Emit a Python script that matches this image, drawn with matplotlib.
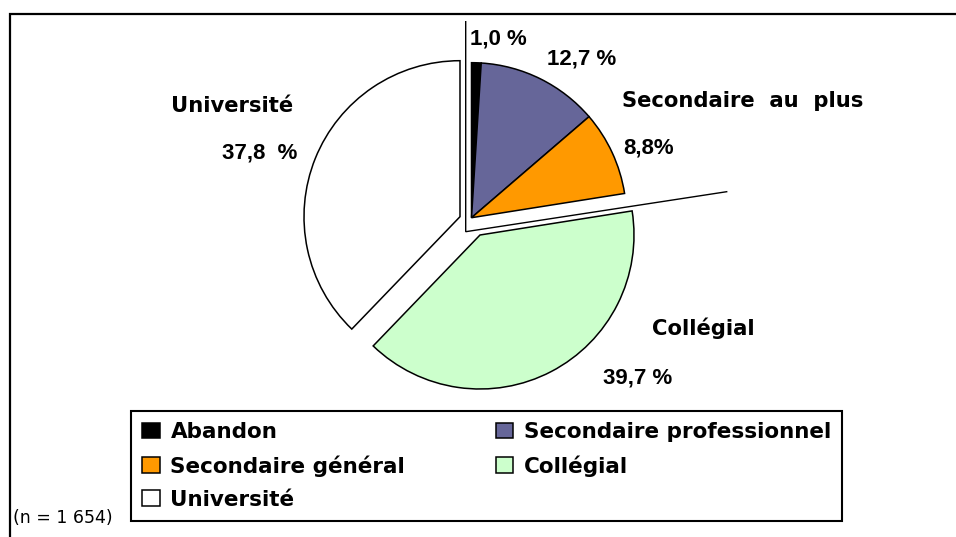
import matplotlib
matplotlib.use('Agg')
import matplotlib.pyplot as plt
from matplotlib.patches import Rectangle

# scolarité (n = 1 654)
categories = ['Abandon', 'Secondaire professionnel', 'Secondaire général',
              'Collégial', 'Université']
pcts = [1.0, 12.7, 8.8, 39.7, 37.8]
pct_labels = ['1,0 %', '12,7 %', '8,8%', '39,7 %', '37,8  %']
colors = ['#000000', '#666699', '#FF9900', '#CCFFCC', '#FFFFFF']

W, H = 956, 537
fig = plt.figure(figsize=(W / 100, H / 100), dpi=100)
ax = fig.add_axes([0, 0, 1, 1])

def py(y):
    # pixel row -> data y
    return H - y

wprops = dict(edgecolor='black', linewidth=1.1)
frac = [p / 100 for p in pcts]

# groupe "Secondaire au plus" (3 premières tranches, détachées ensemble)
w_sec, _ = ax.pie(frac[:3], colors=colors[:3], startangle=90, counterclock=False,
                  normalize=False, radius=155, center=(471.5, py(217.7)),
                  wedgeprops=wprops)
start_col = 90 - 360 * sum(frac[:3])
w_col, _ = ax.pie(frac[3:4], colors=colors[3:4], startangle=start_col,
                  counterclock=False, normalize=False, radius=154,
                  center=(480, py(235)), wedgeprops=wprops)
start_uni = start_col - 360 * frac[3]
w_uni, _ = ax.pie(frac[4:5], colors=colors[4:5], startangle=start_uni,
                  counterclock=False, normalize=False, radius=156,
                  center=(460, py(216.7)), wedgeprops=wprops)

# crochet autour du groupe secondaire
ax.plot([465.7, 465.7, 726.7], [py(21.7), py(231.7), py(191.7)],
        color='black', lw=1.0, solid_joinstyle='miter')

ax.set_xlim(0, W)
ax.set_ylim(0, H)
ax.set_aspect('auto')
ax.axis('off')

# cadre extérieur
ax.add_patch(Rectangle((10, -10), W, py(13.5) + 10, fill=False,
                       edgecolor='black', lw=1.6, clip_on=False))

# étiquettes
num = dict(fontsize=16, fontweight='bold', family='Liberation Sans',
           va='baseline', ha='left')
wrd = dict(fontsize=15.2, fontweight='bold', family='DejaVu Sans',
           va='baseline', ha='left')
ax.text(470, py(45), pct_labels[0], **num)
ax.text(547, py(65), pct_labels[1], **num)
ax.text(623, py(153.3), pct_labels[2], **num)
ax.text(603, py(383.3), pct_labels[3], **num)
ax.text(222, py(158.3), pct_labels[4], **num)
ax.text(622, py(107.3), 'Secondaire  au  plus', **wrd)
ax.text(171, py(112.3), 'Université', **wrd)
ax.text(652, py(335), 'Collégial', **wrd)

ax.text(13.5, py(523.3), '(n = 1 654)', fontsize=12.5, va='baseline', ha='left')

# légende : colonne 1 = Abandon, Sec. général, Université ; colonne 2 = le reste
order = [0, 2, 4, 1, 3]
wedges = list(w_sec) + list(w_col) + list(w_uni)
leg = ax.legend([wedges[i] for i in order], [categories[i] for i in order],
                ncol=2, loc='upper left',
                bbox_to_anchor=(131 / W, py(411) / H),
                borderaxespad=0, frameon=True, fancybox=False,
                prop=dict(size=15.5, weight='bold'), handlelength=0.81,
                handleheight=0.74, handletextpad=0.5, labelspacing=0.6,
                borderpad=0.52, columnspacing=4.2)
leg.get_frame().set_edgecolor('black')
leg.get_frame().set_linewidth(1.5)
leg.get_frame().set_alpha(1)

fig.savefig('out.png', dpi=100)
